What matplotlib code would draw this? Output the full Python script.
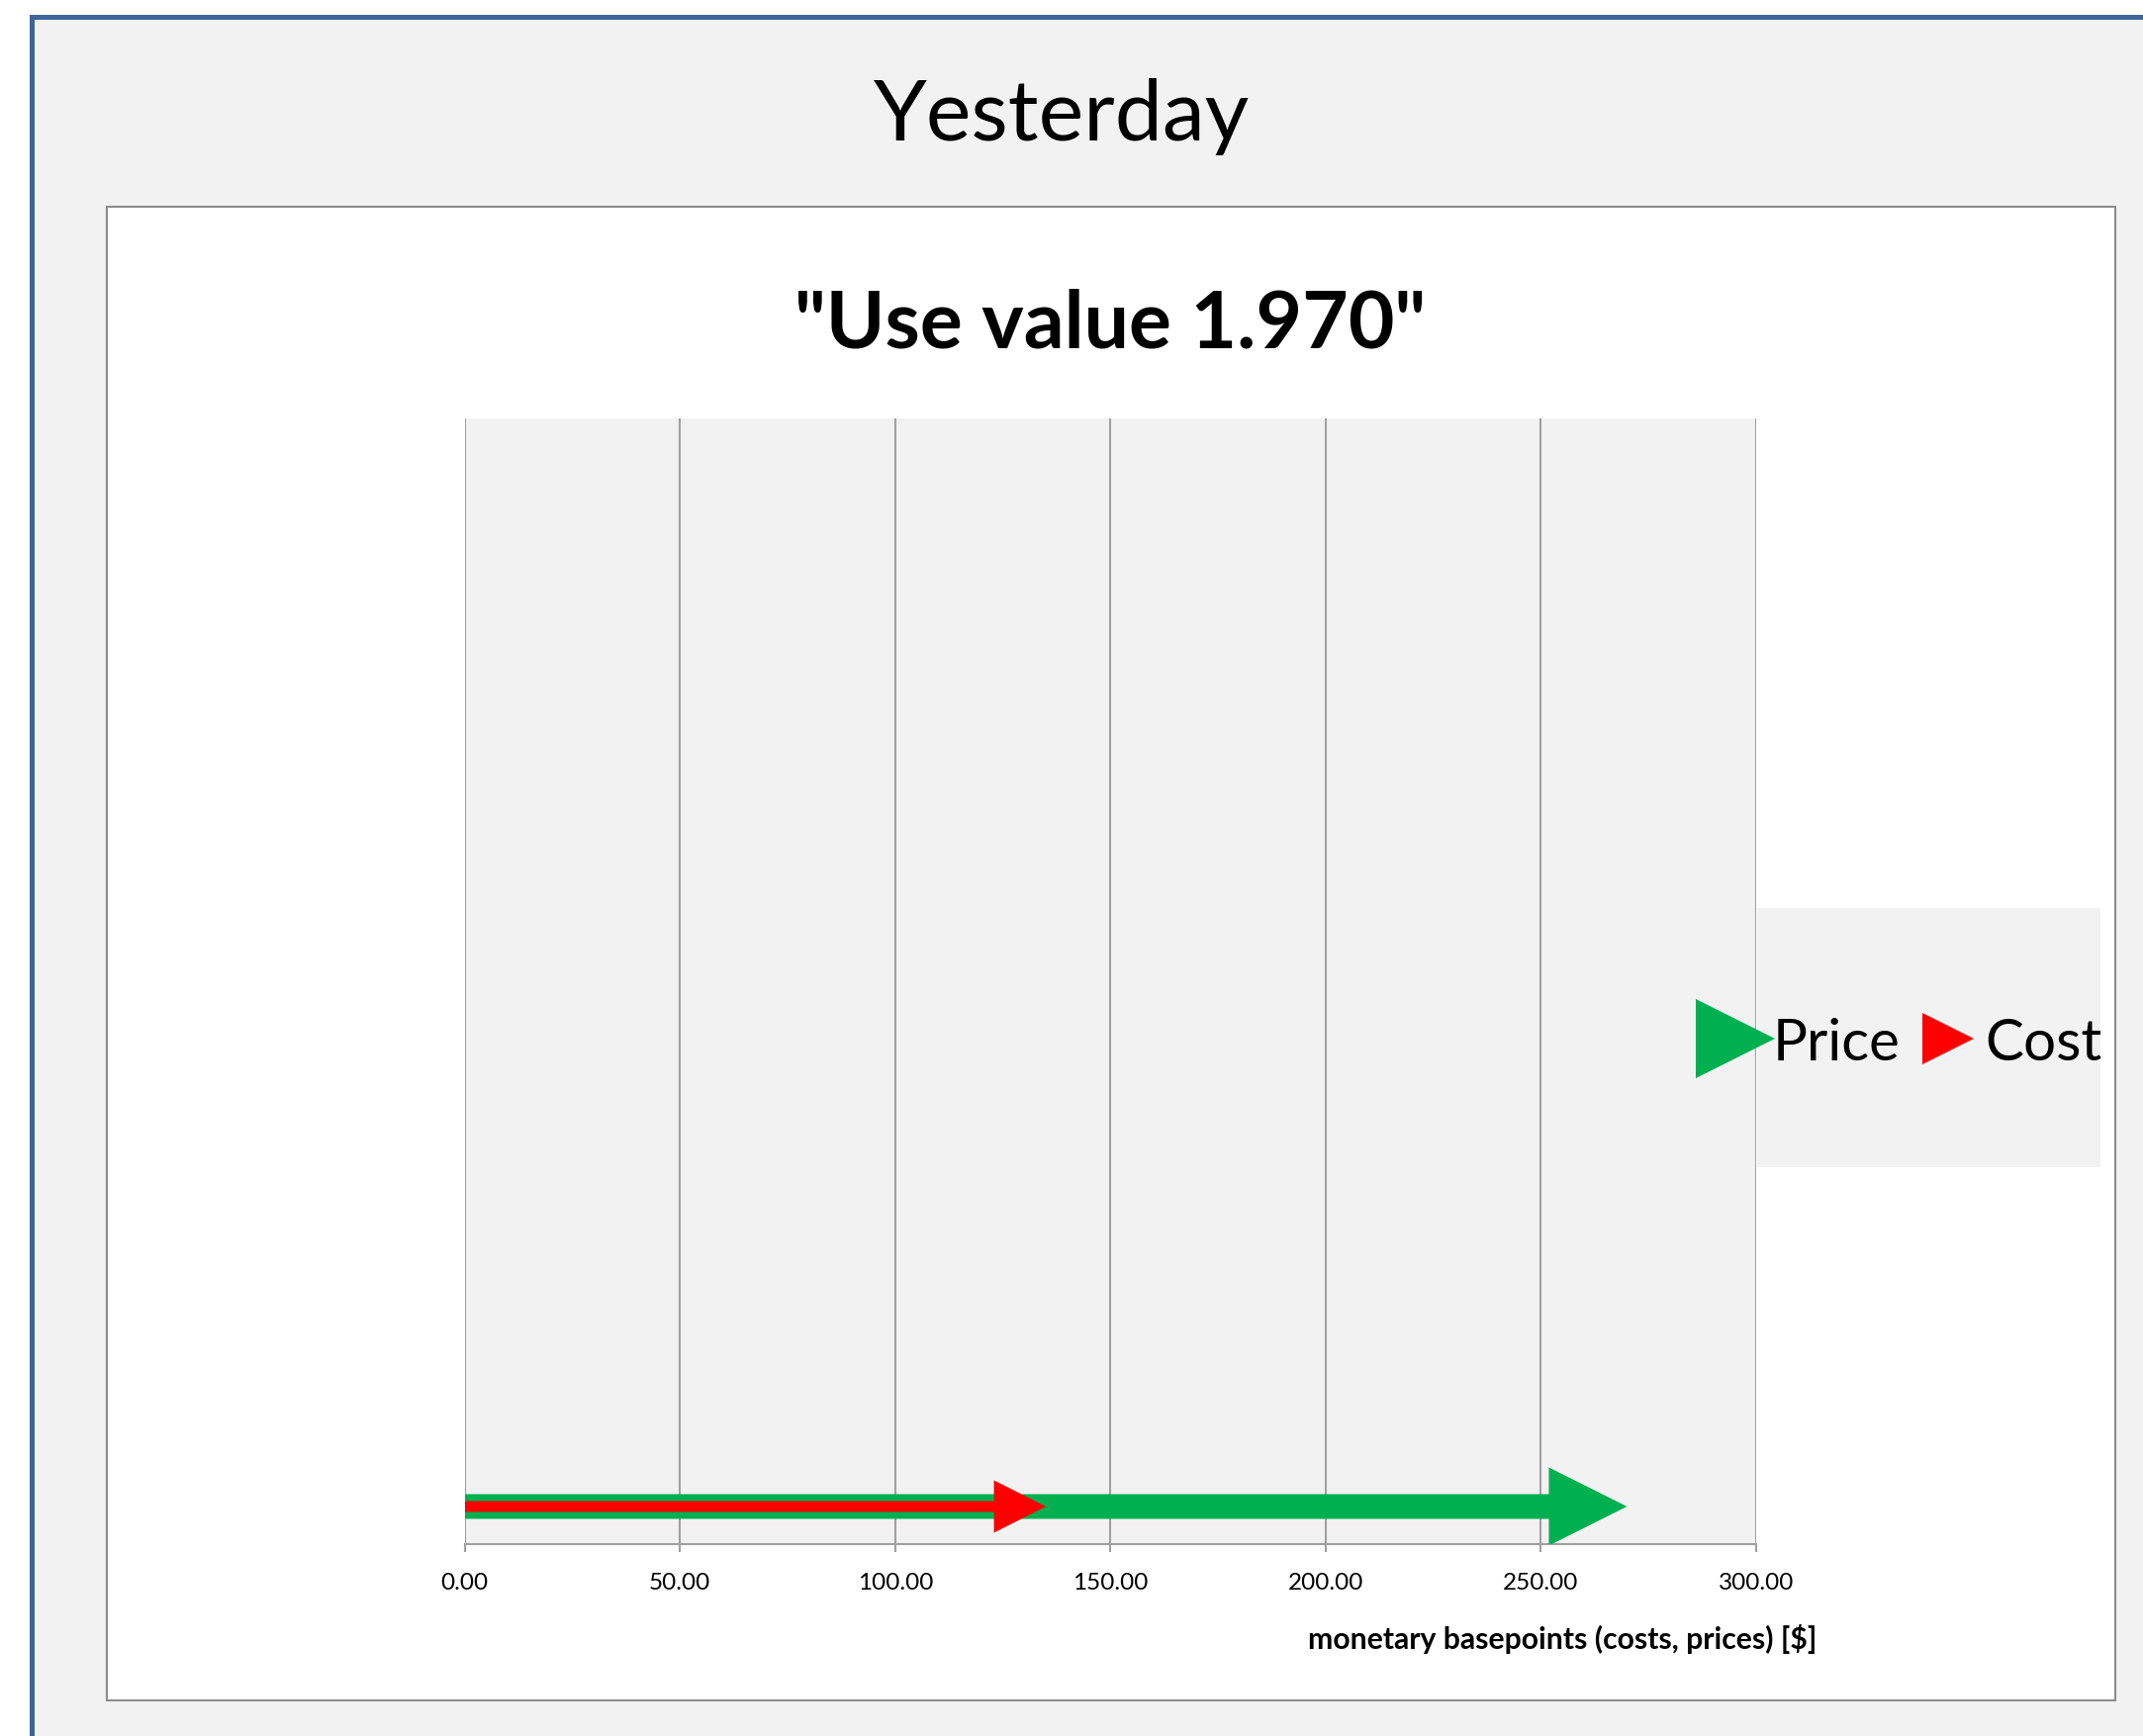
import matplotlib
matplotlib.use("Agg")
import matplotlib.pyplot as plt
from matplotlib.patches import Rectangle
from matplotlib.lines import Line2D

plt.rcParams['font.family'] = ['Lato', 'DejaVu Sans']

# data
series = ["Price", "Cost"]
values = [270.0, 135.0]
colors = ["#00B050", "#FF0000"]
x_ticks = [0, 50, 100, 150, 200, 250, 300]
title = "Yesterday"
subtitle = '"Use value 1.970"'
x_label = "monetary basepoints (costs, prices) [$]"

W, H = 2166, 1756


def fx(x):
    return x / W


def fy(y):
    return 1 - y / H


fig = plt.figure(figsize=(W / 100, H / 100), dpi=100)
fig.patch.set_facecolor("white")

# outer chart area (clipped at right/bottom like the screenshot)
fig.add_artist(Rectangle((fx(32), -0.05), 1.2, fy(18) + 0.05, transform=fig.transFigure,
                         facecolor="#F2F2F2", edgecolor="#3D6596", lw=3.6, zorder=-2))
# inner white panel
fig.add_artist(Rectangle((fx(108), fy(1720)), (2138 - 108) / W, (1720 - 210) / H,
                         transform=fig.transFigure, facecolor="white", edgecolor="#8C8C8C",
                         lw=1.5, zorder=-1))

fig.text(fx(1073), fy(142), title, ha="center", va="baseline", fontsize=62, color="black")
fig.text(fx(1122), fy(352), subtitle, ha="center", va="baseline", fontsize=58,
         fontweight="bold", color="black")

ax = fig.add_axes([fx(469.7), fy(1562), 1305.3 / W, 1138 / H])
ax.set_zorder(1)
ax.set_facecolor("#F2F2F2")
ax.set_xlim(0, 300)
ax.set_ylim(0, 1)
ax.set_xticks(x_ticks)
ax.set_xticklabels([f"{t:.2f}" for t in x_ticks], fontsize=17.5)
ax.set_yticks([])
ax.grid(axis="x", color="#A0A0A0", lw=1.5)
ax.set_axisbelow(True)
for s in ["top", "left", "right"]:
    ax.spines[s].set_visible(False)
ax.spines["bottom"].set_color("#A0A0A0")
ax.spines["bottom"].set_linewidth(1.5)
ax.tick_params(axis="x", direction="out", length=6, width=1.5, color="#A0A0A0", pad=14)

ax.set_xlabel(x_label, fontsize=21.7, fontweight="bold", ha="right", va="center")
ax.xaxis.set_label_coords(1.0467, -0.0835)

# arrows (shaft width / head sizes in px converted to data units)
px_x = 300 / 1305.3
px_y = 1 / 1138
row_y = 38 * px_y
shaft_px = [25, 11]
head_w_px = [79, 53]
head_l_px = [79, 52.5]
for v, c, sw, hw, hl in zip(values, colors, shaft_px, head_w_px, head_l_px):
    ax.arrow(0, row_y, v, 0, width=sw * px_y, head_width=hw * px_y,
             head_length=hl * px_x, length_includes_head=True, color=c, lw=0, zorder=3)

# legend background box
fig.add_artist(Rectangle((fx(1776), fy(1181)), (2123 - 1776) / W, (1181 - 919) / H,
                         transform=fig.transFigure, facecolor="#F2F2F2", edgecolor="none",
                         zorder=2))
handles = [
    Line2D([], [], ls="none", marker=">", markersize=57.6, color=colors[0], markeredgewidth=0),
    Line2D([], [], ls="none", marker=">", markersize=38, color=colors[1], markeredgewidth=0),
]
leg = fig.legend(handles, series, ncol=2, loc="center left",
                 bbox_to_anchor=(fx(1734), fy(1055)), frameon=False, fontsize=42,
                 handlelength=0.68, handletextpad=0.30, columnspacing=0.50,
                 borderpad=0, borderaxespad=0)
leg.set_zorder(5)

fig.savefig("out.png", dpi=100)
